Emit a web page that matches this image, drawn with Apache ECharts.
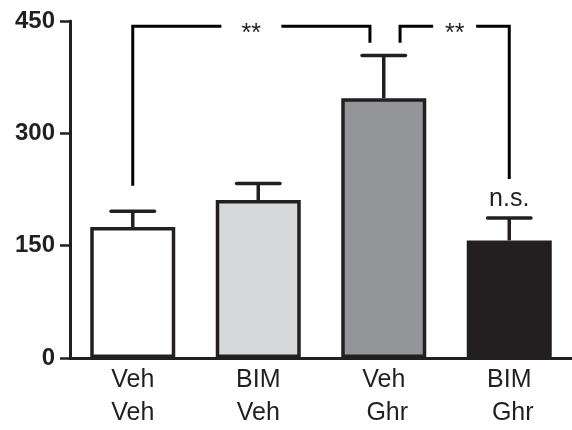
<!DOCTYPE html>
<html><head><meta charset="utf-8">
<script src="https://cdn.jsdelivr.net/npm/echarts@6/dist/echarts.min.js"></script>
<style>html,body{margin:0;padding:0;background:#fff}#c{width:572px;height:430px}</style>
</head><body><div id="c"></div>
<script>
// ---- data ----
const categories = ['Veh\nVeh', 'BIM\nVeh', 'Veh\n Ghr', 'BIM\n Ghr'];
const means = [175, 211, 347, 157];
const errorTops = [196, 233, 404, 187];
const notes = ['', '', '', 'n.s.'];
const yTicks = [0, 150, 300, 450];
// significance brackets (x in category-index units, y in data units)
const bracketX = [[0, 1.89], [2.13, 3]];
const bracketTop = [443, 443];
const bracketEnds = [[230, 421], [421, 239]];
const bracketLabels = ['**', '**'];

// ---- style ----
const ink = '#231f20';
const barColors = ['#ffffff', '#d7d8da', '#939598', '#231f20'];
const gapPx = [60, 43];
const FONT = '"Liberation Sans", Arial, Helvetica, sans-serif';

const chart = echarts.init(document.getElementById('c'), null, {renderer: 'canvas'});
chart.setOption({
  animation: false,
  backgroundColor: '#fff',
  grid: {left: 70, top: 21, width: 509, height: 338, containLabel: false},
  xAxis: [{
    type: 'category', data: categories, boundaryGap: true,
    axisLine: {show: true, onZero: false, lineStyle: {color: ink, width: 3}},
    axisTick: {show: false},
    axisLabel: {color: ink, fontSize: 25, fontFamily: FONT, lineHeight: 33, margin: 6, interval: 0}
  }, {
    type: 'value', min: -0.5, max: 3.5, show: false
  }],
  yAxis: {
    type: 'value', min: yTicks[0], max: yTicks[yTicks.length - 1], interval: yTicks[1] - yTicks[0],
    axisLine: {show: true, onZero: false, lineStyle: {color: ink, width: 3}},
    axisTick: {show: true, length: 10, lineStyle: {color: ink, width: 2.5}},
    axisLabel: {color: ink, fontSize: 24, fontWeight: 'bold', fontFamily: FONT, margin: 15},
    splitLine: {show: false}
  },
  series: [{
    type: 'bar', xAxisIndex: 0, barWidth: 85,
    data: means.map((v, i) => ({value: v, itemStyle: {color: barColors[i], borderColor: ink, borderWidth: 3.5}})),
    z: 2
  }, {
    type: 'custom', xAxisIndex: 0, yAxisIndex: 0, z: 5,
    data: means.map((m, i) => [i, m, errorTops[i]]),
    renderItem(params, api) {
      const i = params.dataIndex;
      const top = api.coord([api.value(0), api.value(1)]);
      const hi = api.coord([api.value(0), api.value(2)]);
      const half = api.size([1, 0])[0] * 0.173;
      const children = [
        {type: 'line', shape: {x1: top[0], y1: top[1], x2: hi[0], y2: hi[1]}, style: {stroke: ink, lineWidth: 3.5}},
        {type: 'line', shape: {x1: hi[0] - half, y1: hi[1], x2: hi[0] + half, y2: hi[1]}, style: {stroke: ink, lineWidth: 3.5, lineCap: 'round'}}
      ];
      if (notes[i]) children.push({type: 'text', style: {text: notes[i], x: hi[0], y: hi[1] - 6, align: 'center', verticalAlign: 'bottom', textAlign: 'center', textVerticalAlign: 'bottom', font: '25px ' + FONT, fill: ink}});
      return {type: 'group', children};
    }
  }, {
    type: 'custom', xAxisIndex: 1, yAxisIndex: 0, z: 6,
    data: bracketX.map((bx, k) => [bx[0], bracketTop[k]]),
    renderItem(params, api) {
      const k = params.dataIndex;
      const xa = bracketX[k][0], xb = bracketX[k][1];
      const tl = api.coord([xa, bracketTop[k]]);
      const tr = api.coord([xb, bracketTop[k]]);
      const bl = api.coord([xa, bracketEnds[k][0]]);
      const br = api.coord([xb, bracketEnds[k][1]]);
      const mid = (tl[0] + tr[0]) / 2, y = tl[1], g = gapPx[k] / 2;
      const ls = {stroke: '#000', lineWidth: 3, fill: null, lineJoin: 'miter'};
      return {type: 'group', children: [
        {type: 'polyline', shape: {points: [bl, [bl[0], y], [mid - g, y]]}, style: ls},
        {type: 'polyline', shape: {points: [[mid + g, y], [br[0], y], br]}, style: ls},
        {type: 'text', style: {text: bracketLabels[k], x: mid, y: y + 8, align: 'center', verticalAlign: 'middle', textAlign: 'center', textVerticalAlign: 'middle', font: '25px ' + FONT, fill: ink}}
      ]};
    }
  }]
});
</script></body></html>
